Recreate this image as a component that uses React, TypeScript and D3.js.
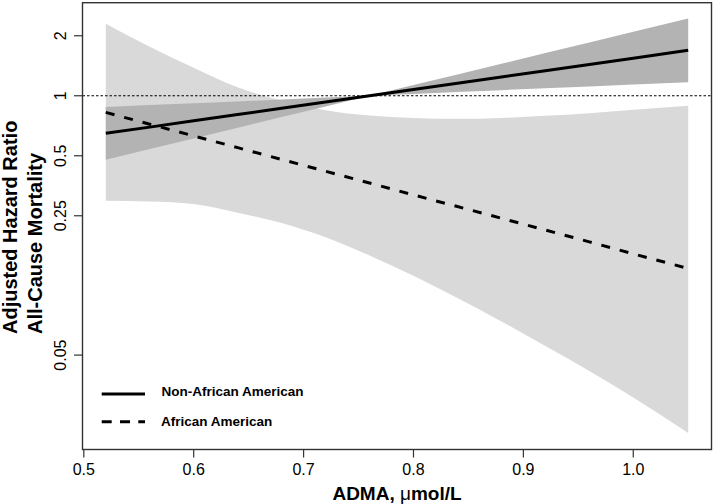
import React from "react";
import * as d3 from "d3";

// ADMA grid (µmol/L) at which the curves were read
const admaGrid = [0.52, 0.56, 0.6, 0.64, 0.68, 0.72, 0.76, 0.8, 0.84, 0.88, 0.92, 0.96, 1.0, 1.05];

// Non-African American: hazard ratio and 95% CI
const nonAAHR = [0.648, 0.696, 0.749, 0.805, 0.865, 0.93, 1.0, 1.075, 1.156, 1.242, 1.336, 1.436, 1.544, 1.69];
const nonAALower = [0.478, 0.541, 0.611, 0.691, 0.782, 0.884, 1.0, 1.022, 1.044, 1.067, 1.091, 1.114, 1.139, 1.17];
const nonAAUpper = [0.878, 0.898, 0.917, 0.937, 0.958, 0.979, 1.0, 1.131, 1.279, 1.447, 1.637, 1.851, 2.094, 2.442];

// African American: hazard ratio and 95% CI
const aaHR = [0.825, 0.72, 0.629, 0.549, 0.479, 0.418, 0.365, 0.318, 0.278, 0.243, 0.212, 0.185, 0.161, 0.136];
const aaLower = [0.297, 0.295, 0.286, 0.259, 0.23, 0.195, 0.158, 0.125, 0.0967, 0.0738, 0.0555, 0.0416, 0.0306, 0.0203];
const aaUpper = [2.296, 1.761, 1.383, 1.102, 0.946, 0.847, 0.796, 0.774, 0.766, 0.774, 0.793, 0.818, 0.85, 0.892];

const xTicks = [0.5, 0.6, 0.7, 0.8, 0.9, 1.0];
const xTickLabels = ["0.5", "0.6", "0.7", "0.8", "0.9", "1.0"];
const yTicks = [0.05, 0.25, 0.5, 1, 2];
const yTickLabels = ["0.05", "0.25", "0.5", "1", "2"];

const legendLabels = ["Non-African American", "African American"];

const W = 714;
const H = 504;
const FONT = "'Liberation Sans', Arial, Helvetica, sans-serif";

export default function App() {
  const left = 82.5, right = 711.5, top = 2.7, bottom = 449.5;
  const x = d3.scaleLinear().domain([0.4988, 1.0712]).range([left, right]);
  const y = d3.scaleLog().domain([0.0168, 2.93]).range([bottom, top]);

  const idx = admaGrid.map((_, i) => i);

  const aaBand = d3
    .area<number>()
    .x((i) => x(admaGrid[i]))
    .y0((i) => y(aaLower[i]))
    .y1((i) => y(aaUpper[i]))
    .curve(d3.curveMonotoneX)(idx) as string;

  const nonAABand = d3
    .area<number>()
    .x((i) => x(admaGrid[i]))
    .y0((i) => y(nonAALower[i]))
    .y1((i) => y(nonAAUpper[i]))(idx) as string;

  const nonAALine = d3
    .line<number>()
    .x((i) => x(admaGrid[i]))
    .y((i) => y(nonAAHR[i]))(idx) as string;

  const aaLine = d3
    .line<number>()
    .x((i) => x(admaGrid[i]))
    .y((i) => y(aaHR[i]))(idx) as string;

  const axisColor = "#333";

  return (
    <svg
      width={W}
      height={H}
      style={{ position: "absolute", left: 0, top: 0, background: "#fff" }}
      fontFamily={FONT}
    >
      <rect x={0} y={0} width={W} height={H} fill="#fff" />
      <path d={aaBand} fill="#d9d9d9" />
      <path d={nonAABand} fill="#b3b3b3" />
      <line
        x1={left}
        x2={right}
        y1={y(1)}
        y2={y(1)}
        stroke="#000"
        strokeWidth={1}
        strokeDasharray="2.5,2"
      />
      <path d={nonAALine} fill="none" stroke="#000" strokeWidth={3} />
      <path d={aaLine} fill="none" stroke="#000" strokeWidth={3} strokeDasharray="9,10" />

      <rect
        x={left}
        y={top}
        width={right - left}
        height={bottom - top}
        fill="none"
        stroke={axisColor}
        strokeWidth={1.4}
      />

      {/* x axis */}
      {xTicks.map((t, i) => (
        <g key={"xt" + i}>
          <line x1={x(t)} x2={x(t)} y1={bottom} y2={bottom + 8} stroke={axisColor} strokeWidth={1.2} />
          <text x={x(t)} y={475} textAnchor="middle" fontSize={16} fill="#000">
            {xTickLabels[i]}
          </text>
        </g>
      ))}
      <text x={(left + right) / 2} y={500} textAnchor="middle" fontSize={19} fontWeight="bold" fill="#000">
        ADMA, <tspan fontWeight="normal">μ</tspan>mol/L
      </text>

      {/* y axis */}
      {yTicks.map((t, i) => (
        <g key={"yt" + i}>
          <line x1={left - 8.5} x2={left} y1={y(t)} y2={y(t)} stroke={axisColor} strokeWidth={1.2} />
          <text
            transform={`translate(65.5,${y(t)}) rotate(-90)`}
            textAnchor="middle"
            fontSize={16}
            fill="#000"
          >
            {yTickLabels[i]}
          </text>
        </g>
      ))}
      <text transform="translate(16.5,334) rotate(-90)" textAnchor="start" fontSize={20} fontWeight="bold" fill="#000">
        Adjusted Hazard Ratio
      </text>
      <text transform="translate(41.5,334) rotate(-90)" textAnchor="start" fontSize={20} fontWeight="bold" fill="#000">
        All-Cause Mortality
      </text>

      {/* legend */}
      <line x1={101.7} x2={145} y1={394} y2={394} stroke="#000" strokeWidth={3} />
      <text x={161.5} y={396} fontSize={13.5} fontWeight="bold" fill="#000">
        {legendLabels[0]}
      </text>
      <line x1={101.7} x2={145} y1={421.7} y2={421.7} stroke="#000" strokeWidth={3} strokeDasharray="10,8.3" />
      <text x={161} y={425.5} fontSize={13.5} fontWeight="bold" fill="#000">
        {legendLabels[1]}
      </text>
    </svg>
  );
}
